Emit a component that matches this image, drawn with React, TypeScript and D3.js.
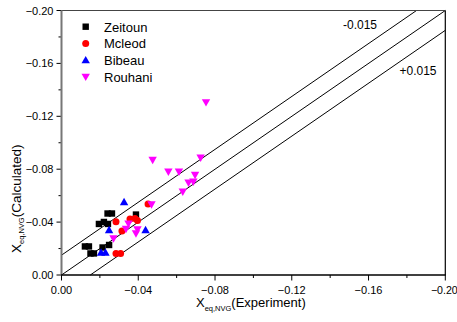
import React from "react";
import * as d3 from "d3";

const zeitounX = [-0.0122, -0.0143, -0.0151, -0.0169, -0.0214, -0.0248, -0.0195, -0.0221, -0.0242, -0.024, -0.0263, -0.0388];
const zeitounY = [-0.0216, -0.0216, -0.0163, -0.0163, -0.0208, -0.0227, -0.0386, -0.0401, -0.0386, -0.0465, -0.0465, -0.0457];
const mcleodX = [-0.0284, -0.0315, -0.0357, -0.0383, -0.0396, -0.0284, -0.0308, -0.0451];
const mcleodY = [-0.0403, -0.0333, -0.0423, -0.0427, -0.0412, -0.0163, -0.0163, -0.0537];
const bibeauX = [-0.0326, -0.0248, -0.0438, -0.0206, -0.0229];
const bibeauY = [-0.0552, -0.034, -0.034, -0.017, -0.017];
const rouhaniX = [-0.0753, -0.0475, -0.0557, -0.0612, -0.0725, -0.0696, -0.0662, -0.0687, -0.0632, -0.0271, -0.0336, -0.0349, -0.0396, -0.0388, -0.0469];
const rouhaniY = [-0.1306, -0.087, -0.0781, -0.0781, -0.0887, -0.0756, -0.0698, -0.0705, -0.063, -0.0276, -0.0348, -0.0389, -0.0344, -0.0314, -0.0533];

const majorTicks = [0, -0.04, -0.08, -0.12, -0.16, -0.2];
const minorTicks = [-0.02, -0.06, -0.1, -0.14, -0.18];
const offsets = [-0.015, 0, 0.015];
const seriesNames = ["Zeitoun", "Mcleod", "Bibeau", "Rouhani"];
const seriesColors = ["#000000", "#FF0000", "#0000FF", "#FF00FF"];

const FONT = "'Liberation Sans', Arial, sans-serif";

function Marker({ kind, cx, cy, color }: { kind: number; cx: number; cy: number; color: string }) {
  if (kind === 0) return <rect x={cx - 3.2} y={cy - 3.2} width={6.4} height={6.4} fill={color} />;
  if (kind === 1) return <circle cx={cx} cy={cy} r={3.5} fill={color} />;
  const s = 4.2;
  if (kind === 2)
    return <path d={`M${cx},${cy - s}L${cx + s},${cy + s * 0.75}L${cx - s},${cy + s * 0.75}Z`} fill={color} />;
  return <path d={`M${cx},${cy + s}L${cx + s},${cy - s * 0.75}L${cx - s},${cy - s * 0.75}Z`} fill={color} />;
}

export default function App() {
  const W = 457, H = 322;
  const x = d3.scaleLinear().domain([0, -0.2]).range([61.5, 445.3]);
  const y = d3.scaleLinear().domain([0, -0.2]).range([275, 10.5]);
  const fmt = d3.format(".2f");
  const series = [
    [zeitounX, zeitounY],
    [mcleodX, mcleodY],
    [bibeauX, bibeauY],
    [rouhaniX, rouhaniY],
  ];

  // diagonal lines y = x + off, clipped to the plot box
  const lineSegs = offsets.map((off) => {
    let xs = 0, ys = off;
    if (ys > 0) { xs = -off; ys = 0; }
    let xe = -0.2, ye = -0.2 + off;
    if (ye < -0.2) { ye = -0.2; xe = -0.2 - off; }
    return [x(xs), y(ys), x(xe), y(ye)];
  });

  return (
    <svg width={W} height={H} style={{ position: "absolute", left: 0, top: 0, background: "#fff" }} fontFamily={FONT}>
      <rect width={W} height={H} fill="#fff" />
      {lineSegs.map((s, i) => (
        <line key={i} x1={s[0]} y1={s[1]} x2={s[2]} y2={s[3]} stroke="#000" strokeWidth={1} />
      ))}
      <line x1={61.5} y1={10.5} x2={445.3} y2={10.5} stroke="#444" strokeWidth={1} />
      <line x1={445.3} y1={10.5} x2={445.3} y2={275} stroke="#000" strokeWidth={1.2} />
      {majorTicks.map((t, i) => (
        <g key={"xm" + t}>
          <line x1={x(t)} y1={275} x2={x(t)} y2={280.5} stroke="#000" strokeWidth={1} />
          <text x={i === majorTicks.length - 1 ? x(t) - 1 : x(t)} y={294} fontSize={i === majorTicks.length - 1 ? 10.6 : 11} textAnchor="middle" fill="#000">{fmt(t)}</text>
        </g>
      ))}
      {minorTicks.map((t) => (
        <line key={"xn" + t} x1={x(t)} y1={275} x2={x(t)} y2={278} stroke="#000" strokeWidth={1} />
      ))}
      {majorTicks.map((t) => (
        <g key={"ym" + t}>
          <line x1={56.5} y1={y(t)} x2={61.5} y2={y(t)} stroke="#000" strokeWidth={1} />
          <text x={53.5} y={y(t) + 4} fontSize={11} textAnchor="end" fill="#000">{fmt(t)}</text>
        </g>
      ))}
      {minorTicks.map((t) => (
        <line key={"yn" + t} x1={58.5} y1={y(t)} x2={61.5} y2={y(t)} stroke="#000" strokeWidth={1} />
      ))}
      <line x1={61.5} y1={10.5} x2={61.5} y2={275.5} stroke="#777" strokeWidth={2} />
      <line x1={61} y1={275} x2={445.8} y2={275} stroke="#000" strokeWidth={1.3} />
      {series.map(([xs, ys], si) =>
        xs.map((v, i) => (
          <Marker key={si + "-" + i} kind={si} cx={x(v)} cy={y(ys[i])} color={seriesColors[si]} />
        ))
      )}
      <text x={343} y={28.5} fontSize={12} fill="#000">-0.015</text>
      <text x={399.5} y={75} fontSize={12} fill="#000">+0.015</text>
      {seriesNames.map((n, i) => (
        <g key={n}>
          <Marker kind={i} cx={85.7} cy={26.7 + i * 16.7} color={seriesColors[i]} />
          <text x={104} y={26.7 + i * 16.7 + 4.8} fontSize={13} fill="#000">{n}</text>
        </g>
      ))}
      <text x={196} y={307} fontSize={13} fill="#000">
        X<tspan fontSize={7.5} dy={3.5}>eq,NVG</tspan><tspan dy={-3.5}>(Experiment)</tspan>
      </text>
      <text transform="translate(20.5,253) rotate(-90)" fontSize={13.5} fill="#000">
        X<tspan fontSize={7.5} dy={3.5}>eq,NVG</tspan><tspan dy={-3.5}>(Calculated)</tspan>
      </text>
    </svg>
  );
}
